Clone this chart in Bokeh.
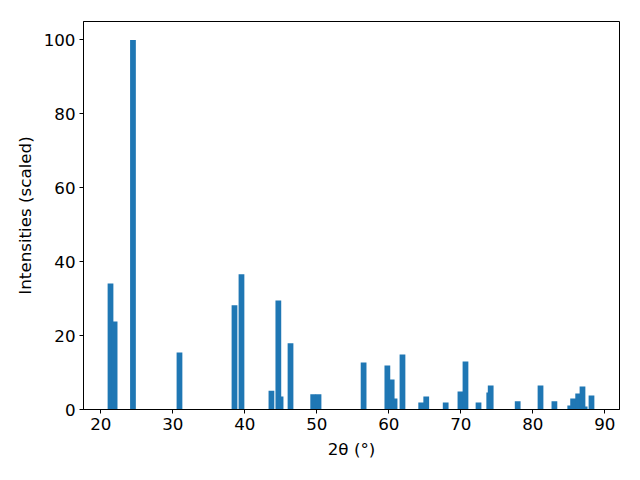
from bokeh.plotting import figure
from bokeh.models import FixedTicker, Range1d, ColumnDataSource
from bokeh.embed import file_html
from bokeh.resources import INLINE

two_theta = [21.35, 21.92, 24.47, 30.93, 38.57, 39.54, 43.7, 44.66, 44.97, 46.35,
             49.5, 50.24, 56.5, 59.8, 60.4, 60.8, 61.9, 64.5, 65.2, 67.9,
             69.95, 70.65, 72.46, 73.95, 74.15, 77.9, 81.07, 83.0, 85.2, 85.6,
             86.3, 86.9, 87.2, 88.15]
intensity = [34.1, 23.8, 100, 15.4, 28.2, 36.6, 5.1, 29.5, 3.5, 17.9,
             4.1, 4.1, 12.7, 11.9, 8.1, 3.0, 14.9, 1.9, 3.5, 1.9,
             4.9, 13.0, 1.9, 4.6, 6.5, 2.2, 6.5, 2.2, 1.1, 3.0,
             4.3, 6.2, 0.8, 3.8]
x_ticks = [20, 30, 40, 50, 60, 70, 80, 90]
y_ticks = [0, 20, 40, 60, 80, 100]

src = ColumnDataSource(dict(x=two_theta, top=intensity))

p = figure(width=624, height=464, output_backend="svg", toolbar_location=None,
           x_range=Range1d(17.6, 92.04), y_range=Range1d(0, 105))
p.min_border_left = 83
p.min_border_right = 5
p.min_border_top = 21
p.min_border_bottom = 55

p.vbar(x="x", top="top", bottom=0, width=0.8, source=src,
       fill_color="#1f77b4", line_color=None)

p.xgrid.visible = False
p.ygrid.visible = False
p.outline_line_color = "black"
p.outline_line_width = 1
p.background_fill_color = "white"
p.border_fill_color = "white"

p.xaxis.ticker = FixedTicker(ticks=x_ticks)
p.yaxis.ticker = FixedTicker(ticks=y_ticks)
p.xaxis.axis_label = "2θ (°)"
p.yaxis.axis_label = "Intensities (scaled)"

for ax in (p.xaxis[0], p.yaxis[0]):
    ax.minor_tick_line_color = None
    ax.major_tick_in = 0
    ax.major_tick_out = 4
    ax.major_tick_line_color = "black"
    ax.axis_line_color = "black"
    ax.major_label_text_font = "DejaVu Sans"
    ax.major_label_text_font_size = "16.7px"
    ax.major_label_text_color = "black"
    ax.major_label_standoff = 4
    ax.axis_label_text_font = "DejaVu Sans"
    ax.axis_label_text_font_size = "16.7px"
    ax.axis_label_text_font_style = "normal"
    ax.axis_label_text_color = "black"
    ax.axis_label_standoff = 6

open("out.html", "w").write(file_html(p, INLINE))
